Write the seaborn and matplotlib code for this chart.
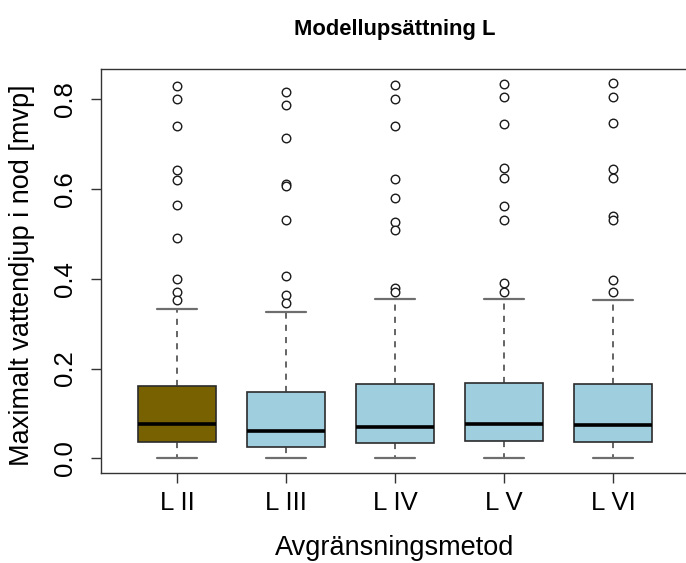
import matplotlib
matplotlib.use("Agg")
import matplotlib.pyplot as plt
import pandas as pd
import seaborn as sns

# Box statistics per delineation method (values in mvp)
methods = ["L II", "L III", "L IV", "L V", "L VI"]
whisker_low = [0.0, 0.0, 0.0, 0.0, 0.0]
q1 = [0.036, 0.0245, 0.034, 0.0385, 0.036]
median = [0.0757, 0.060, 0.0704, 0.077, 0.0735]
q3 = [0.161, 0.147, 0.165, 0.168, 0.1655]
whisker_high = [0.333, 0.326, 0.355, 0.355, 0.353]

# Outliers above the upper whisker
outliers_l2 = [0.830, 0.800, 0.739, 0.641, 0.620, 0.564, 0.491, 0.399, 0.370, 0.352]
outliers_l3 = [0.816, 0.787, 0.713, 0.610, 0.607, 0.531, 0.406, 0.364, 0.345]
outliers_l4 = [0.831, 0.801, 0.741, 0.622, 0.580, 0.526, 0.508, 0.380, 0.370]
outliers_l5 = [0.834, 0.804, 0.745, 0.647, 0.624, 0.563, 0.531, 0.391, 0.370]
outliers_l6 = [0.835, 0.805, 0.747, 0.645, 0.624, 0.540, 0.531, 0.396, 0.370]

box_colors = ["#776100", "#9fcfdf", "#9fcfdf", "#9fcfdf", "#9fcfdf"]
y_ticks = [0.0, 0.2, 0.4, 0.6, 0.8]

sns.set_theme(style="white")
plt.rcParams["font.family"] = ["Liberation Sans", "DejaVu Sans"]
plt.rcParams["text.color"] = "black"

W, H = 686, 563
fig = plt.figure(figsize=(W / 100, H / 100), dpi=100)
ax = fig.add_axes([100.7 / W, 1 - 473 / H, (689.3 - 100.7) / W, (473 - 69) / H])

positions = list(range(1, len(methods) + 1))
stats = []
for i, name in enumerate(methods):
    stats.append(dict(label=name, med=median[i], q1=q1[i], q3=q3[i],
                      whislo=whisker_low[i], whishi=whisker_high[i], fliers=[]))

bp = ax.bxp(stats, positions=positions, widths=0.71, capwidths=0.36,
            showfliers=False, patch_artist=True,
            boxprops=dict(edgecolor="#2b2b2b", linewidth=1.2),
            medianprops=dict(color="black", linewidth=2.6, solid_capstyle="butt"),
            whiskerprops=dict(color="#3a3a3a", linewidth=1.1, linestyle=(0, (4, 4))),
            capprops=dict(color="#6e6e6e", linewidth=1.6))
for patch, c in zip(bp["boxes"], box_colors):
    patch.set_facecolor(c)

# Outlier points
all_out = [outliers_l2, outliers_l3, outliers_l4, outliers_l5, outliers_l6]
rows = []
for pos, vals in zip(positions, all_out):
    for v in vals:
        rows.append({"pos": pos, "value": v})
df_out = pd.DataFrame(rows)
sns.scatterplot(data=df_out, x="pos", y="value", ax=ax, marker="o", s=38,
                facecolor="white", edgecolor="#1a1a1a", linewidth=1.0, zorder=5,
                legend=False)

ax.set_xlim(0.3, 5.7)
ax.set_ylim(-0.0327, 0.867)
ax.set_xticks(positions)
ax.set_xticklabels(methods)
ax.set_yticks(y_ticks)
ax.set_yticklabels([f"{t:.1f}" for t in y_ticks], rotation=90, va="center")
ax.set_xlabel("")
ax.set_ylabel("")

for s in ax.spines.values():
    s.set_visible(True)
    s.set_color("#333333")
    s.set_linewidth(1.0)

ax.tick_params(axis="both", which="major", direction="out", length=7, width=1.0,
               color="#333333", labelsize=18.5, labelcolor="black")
ax.tick_params(axis="y", pad=10)
ax.tick_params(axis="x", pad=6)
ax.tick_params(left=True, bottom=True)

fig.text(395 / W, 1 - 29 / H, "Modellupsättning L", ha="center", va="center",
         fontsize=15.8, fontweight="bold", color="black")
fig.text(395 / W, 1 - 548 / H, "Avgränsningsmetod", ha="center", va="center",
         fontsize=19.5, color="black")
fig.text(22 / W, 1 - 275 / H, "Maximalt vattendjup i nod [mvp]", ha="center",
         va="center", rotation=90, fontsize=19.5, color="black")

fig.savefig("out.png", dpi=100)
